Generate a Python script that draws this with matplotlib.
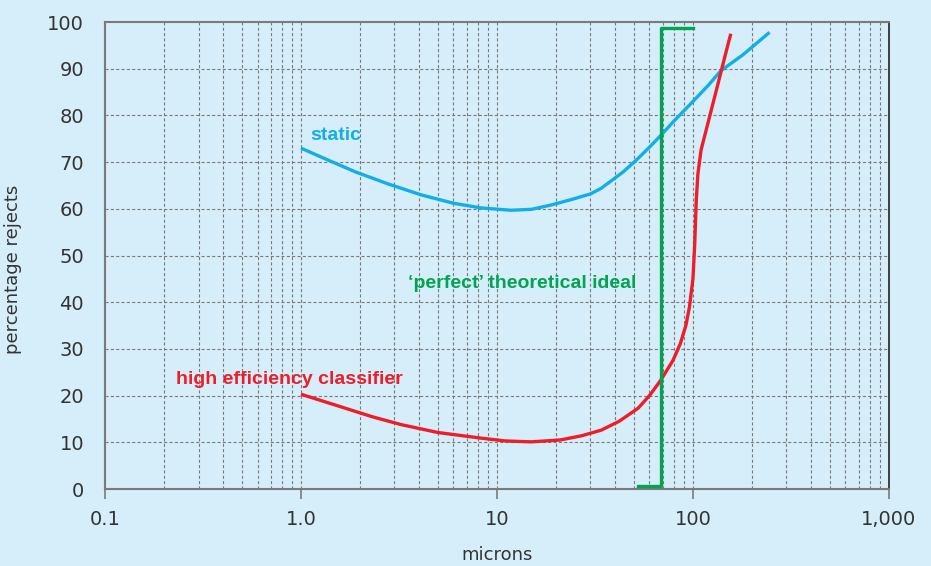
import matplotlib.pyplot as plt
import numpy as np
from matplotlib.ticker import FixedLocator, NullLocator

# values
static_x = [1.0, 1.4, 1.9, 2.8, 4.1, 6.0, 8.3, 11.8, 15.0, 18.8, 24.0, 30.0, 34.0, 38.0, 44.0, 51.0, 60.0, 68.8, 80.0, 100.0, 120.0, 139.0, 180.0, 246.0]
static_y = [73.0, 70.3, 67.9, 65.3, 63.0, 61.2, 60.2, 59.7, 59.9, 60.8, 62.0, 63.2, 64.4, 65.9, 67.9, 70.3, 73.2, 75.8, 78.8, 83.0, 86.5, 89.6, 93.0, 97.8]

hec_x = [1.0, 1.6, 2.3, 3.24, 5.0, 8.3, 11.0, 14.9, 21.0, 27.0, 34.0, 42.0, 52.5, 60.0, 68.5, 79.0, 86.0, 92.0, 96.0, 100.0, 102.0, 104.0, 106.0, 110.0, 119.0, 130.0, 139.0, 148.0, 156.0]
hec_y = [20.3, 17.6, 15.5, 13.8, 12.1, 10.9, 10.3, 10.1, 10.5, 11.4, 12.6, 14.5, 17.3, 20.0, 23.3, 27.5, 31.0, 35.0, 39.0, 45.0, 52.0, 61.9, 67.5, 72.6, 78.2, 84.5, 89.3, 93.8, 97.5]

ideal_x = [52.3, 68.7, 68.7, 100.0]
ideal_y = [0.6, 0.6, 98.8, 98.8]

x_ticks = [0.1, 1.0, 10, 100, 1000]
x_labels = ['0.1', '1.0', '10', '100', '1,000']
y_ticks = list(range(0, 101, 10))

bg = '#d5eefa'
blue = '#12aee8'
red = '#ee1d2a'
green = '#00a451'
grey = '#7a7a7a'

fig = plt.figure(figsize=(9.31, 5.66), dpi=100, facecolor=bg)
ax = fig.add_axes([0.1128, 0.136, 0.842, 0.825], facecolor=bg)

ax.set_xscale('log')
ax.set_xlim(0.1, 1000)
ax.set_ylim(0, 100)

# dashed grid: every 1..9 per decade, and every 10 on y
minor = [m * 10.0 ** e for e in range(-1, 3) for m in range(2, 10)] + [1.0, 10, 100]
for xv in minor:
    ax.axvline(xv, color=grey, lw=0.8, ls=(0, (2.8, 2)), zorder=1)
for yv in y_ticks[1:-1]:
    ax.axhline(yv, color=grey, lw=0.8, ls=(0, (2.8, 2)), zorder=1)

ax.plot(static_x, static_y, color=blue, lw=2.4, solid_capstyle='butt', zorder=3)
ax.plot(hec_x, hec_y, color=red, lw=2.4, solid_capstyle='butt', zorder=3)
ax.plot(ideal_x, ideal_y, color=green, lw=2.4, solid_joinstyle='round', zorder=3)

lab = ['Liberation Sans', 'DejaVu Sans']
ax.text(1.12, 75.8, 'static', color=blue, fontsize=14, fontweight='bold', family=lab, va='center', ha='left')
ax.text(0.23, 23.5, 'high efficiency classifier', color=red, fontsize=14, fontweight='bold', family=lab, va='center', ha='left')
ax.text(3.52, 44.0, '\u2018perfect\u2019 theoretical ideal', color=green, fontsize=14, fontweight='bold', family=lab, va='center', ha='left')

ax.xaxis.set_major_locator(FixedLocator(x_ticks))
ax.xaxis.set_minor_locator(NullLocator())
ax.set_xticklabels(x_labels)
ax.set_yticks(y_ticks)

ax.tick_params(axis='x', which='major', length=7, width=1.2, color=grey, pad=8, labelsize=14, labelcolor='#333333', direction='out')
ax.tick_params(axis='y', length=0, pad=15, labelsize=14, labelcolor='#333333')

for side in ['left', 'bottom', 'top']:
    ax.spines[side].set_color(grey)
    ax.spines[side].set_linewidth(1.5)
ax.spines['right'].set_color('#222222')
ax.spines['right'].set_linewidth(1.2)

ax.set_xlabel('microns', fontsize=13, color='#333333', labelpad=12)
ax.set_ylabel('percentage rejects', fontsize=13, color='#333333')
ax.yaxis.set_label_coords(-0.106, 0.47)

fig.savefig('out.png', dpi=100, facecolor=bg)
